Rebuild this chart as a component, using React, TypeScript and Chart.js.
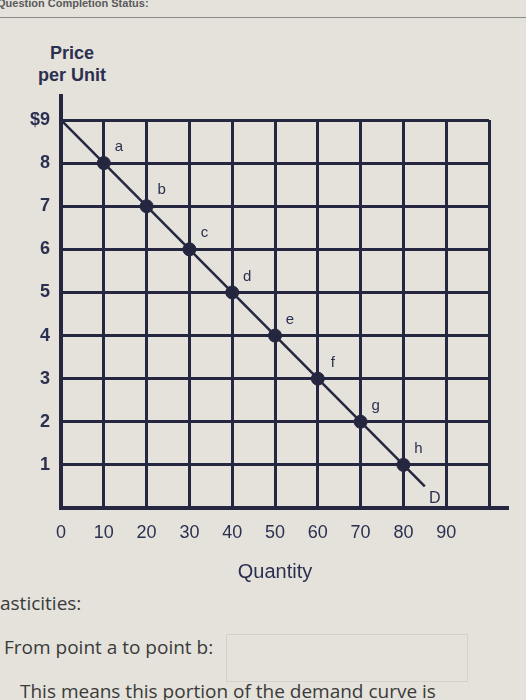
import React, { useEffect, useRef } from "react";
import { Chart, registerables } from "chart.js";

Chart.register(...registerables);

// Demand schedule: labelled points on the demand curve
const pointLabels = ["a", "b", "c", "d", "e", "f", "g", "h"];
const quantities = [10, 20, 30, 40, 50, 60, 70, 80];
const prices = [8, 7, 6, 5, 4, 3, 2, 1];

// The demand line itself, from the price intercept to its drawn end
const demandQ = [0, 85];
const demandP = [9, 0.5];
const demandLabel = "D";

// Axis ticks
const xTicks = [0, 10, 20, 30, 40, 50, 60, 70, 80, 90, 100];
const xTickLabels = ["0", "10", "20", "30", "40", "50", "60", "70", "80", "90", ""];
const yTicks = [0, 1, 2, 3, 4, 5, 6, 7, 8, 9];
const yTickLabels = ["", "1", "2", "3", "4", "5", "6", "7", "8", "$9"];

const INK = "#24273f";
const TEXT = "#2c3050";
const FONT = "'Liberation Sans', Arial, sans-serif";

const labelsPlugin = {
  id: "demandLabels",
  afterDraw(chart: any) {
    const { ctx, scales } = chart;
    const xs = scales.x;
    const ys = scales.y;
    ctx.save();
    // axis lines run a little past the grid
    ctx.strokeStyle = INK;
    ctx.lineWidth = 4;
    ctx.beginPath();
    ctx.moveTo(xs.left, ys.top);
    ctx.lineTo(xs.left, ys.top - 26);
    ctx.moveTo(xs.right, ys.bottom);
    ctx.lineTo(xs.right + 20, ys.bottom);
    ctx.stroke();

    // point letters
    const meta = chart.getDatasetMeta(1);
    ctx.fillStyle = TEXT;
    ctx.font = `15px ${FONT}`;
    ctx.textAlign = "center";
    ctx.textBaseline = "middle";
    meta.data.forEach((pt: any, i: number) => {
      ctx.fillText(pointLabels[i], pt.x + 15, pt.y - 16);
    });

    // curve label at its end
    const end = chart.getDatasetMeta(0).data[demandQ.length - 1];
    ctx.font = `16px ${FONT}`;
    ctx.fillText(demandLabel, end.x + 10, end.y + 12);
    ctx.restore();
  },
};

function DemandChart() {
  const ref = useRef<HTMLCanvasElement | null>(null);

  useEffect(() => {
    if (!ref.current) return;
    const chart = new Chart(ref.current, {
      type: "scatter",
      data: {
        datasets: [
          {
            label: "Demand",
            data: demandQ.map((q, i) => ({ x: q, y: demandP[i] })),
            showLine: true,
            borderColor: INK,
            borderWidth: 2.5,
            pointRadius: 0,
          },
          {
            label: "Points",
            data: quantities.map((q, i) => ({ x: q, y: prices[i] })),
            showLine: false,
            backgroundColor: INK,
            borderColor: INK,
            pointRadius: 6.5,
          },
        ],
      },
      options: {
        animation: false,
        responsive: false,
        events: [],
        layout: { padding: { top: 32, right: 37, left: 0, bottom: 0 } },
        plugins: { legend: { display: false }, tooltip: { enabled: false } },
        scales: {
          x: {
            type: "linear",
            min: 0,
            max: 100,
            afterBuildTicks: (s: any) => {
              s.ticks = xTicks.map((v) => ({ value: v }));
            },
            afterFit: (s: any) => {
              s.height = 80;
            },
            ticks: {
              autoSkip: false,
              maxRotation: 0,
              padding: 14,
              color: TEXT,
              font: { family: FONT, size: 18 },
              callback: (v: any) => xTickLabels[xTicks.indexOf(Number(v))] ?? "",
            },
            grid: { color: INK, lineWidth: 3, drawTicks: false },
            border: { display: true, color: INK, width: 4 },
            title: {
              display: true,
              text: "Quantity",
              color: TEXT,
              font: { family: FONT, size: 20 },
              padding: { top: 0, bottom: 4 },
            },
          },
          y: {
            type: "linear",
            min: 0,
            max: 9,
            afterBuildTicks: (s: any) => {
              s.ticks = yTicks.map((v) => ({ value: v }));
            },
            afterFit: (s: any) => {
              s.width = 61;
            },
            ticks: {
              autoSkip: false,
              padding: 11,
              color: TEXT,
              font: { family: FONT, size: 18, weight: "bold" },
              callback: (v: any) => yTickLabels[yTicks.indexOf(Number(v))] ?? "",
            },
            grid: { color: INK, lineWidth: 3, drawTicks: false },
            border: { display: true, color: INK, width: 4 },
          },
        },
      },
      plugins: [labelsPlugin],
    });
    return () => chart.destroy();
  }, []);

  return (
    <canvas
      ref={ref}
      width={526}
      height={500}
      style={{ position: "absolute", left: 0, top: 88, width: 526, height: 500 }}
    />
  );
}

export default function App() {
  const body = "'Open Sans', 'Noto Sans', sans-serif";
  return (
    <div
      style={{
        position: "absolute",
        left: 0,
        top: 0,
        width: 526,
        height: 700,
        overflow: "hidden",
        background: "#e4e2da",
        fontFamily: body,
      }}
    >
      <div
        style={{
          position: "absolute",
          left: -3,
          top: -3,
          fontSize: 11,
          fontWeight: 600,
          color: "#5a5a5a",
          fontFamily: FONT,
        }}
      >
        Question Completion Status:
      </div>
      <div
        style={{
          position: "absolute",
          left: 0,
          top: 17,
          width: 526,
          height: 1,
          background: "#8c8b86",
        }}
      />
      <div
        style={{
          position: "absolute",
          left: 12,
          top: 42,
          width: 120,
          textAlign: "center",
          fontFamily: FONT,
          fontWeight: "bold",
          fontSize: 18,
          lineHeight: "22px",
          color: TEXT,
        }}
      >
        Price
        <br />
        per Unit
      </div>
      <DemandChart />
      <div style={{ position: "absolute", left: 0, top: 590, fontSize: 19, color: "#3a3a3a" }}>
        asticities:
      </div>
      <div style={{ position: "absolute", left: 4, top: 634, fontSize: 19, color: "#3a3a3a" }}>
        From point a to point b:
      </div>
      <div
        style={{
          position: "absolute",
          left: 226,
          top: 634,
          width: 240,
          height: 46,
          border: "1px solid #d3d1c9",
        }}
      />
      <div style={{ position: "absolute", left: 20, top: 678, fontSize: 19, color: "#3a3a3a", whiteSpace: "nowrap" }}>
        This means this portion of the demand curve is
      </div>
    </div>
  );
}
